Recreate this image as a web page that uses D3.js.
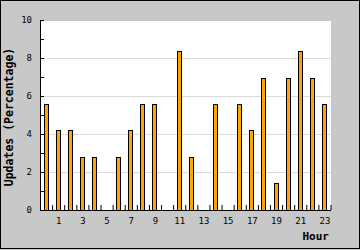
<!DOCTYPE html>
<html><head><meta charset="utf-8">
<script src="https://cdn.jsdelivr.net/npm/d3@7"></script>
<style>body{margin:0;background:#c8c8c8}svg{display:block}</style>
</head><body><svg id="c" width="360" height="250"></svg>
<script>
const hours = [0,1,2,3,4,5,6,7,8,9,10,11,12,13,14,15,16,17,18,19,20,21,22,23];
const updates = [5.56,4.17,4.17,2.78,2.78,0,2.78,4.17,5.56,5.56,0,8.33,2.78,0,5.56,0,5.56,4.17,6.94,1.39,6.94,8.33,6.94,5.56];
const yMajorTicks = [0,2,4,6,8,10];
const yMinorTicks = [1,3,5,7,9];
const gridValues = [2,4,6,8];
const xTickLabels = [1,3,5,7,9,11,13,15,17,19,21,23];
const xTitle = "Hour";
const yTitle = "Updates (Percentage)";

const svg = d3.select("#c");
const mono = "'DejaVu Sans Mono', monospace";

svg.append("rect").attr("x",0).attr("y",0).attr("width",360).attr("height",250).attr("fill","#c8c8c8");
svg.append("rect").attr("x",0.5).attr("y",0.5).attr("width",359).attr("height",248)
  .attr("fill","none").attr("stroke","#000");

const x = d3.scaleBand().domain(hours).range([40.5,331]).paddingInner(0).paddingOuter(0);
const xb = d3.scaleLinear().domain([0,24]).range([40,330.5]);
const y = d3.scaleLinear().domain([0,10]).range([210,20]);

// plot background
svg.append("rect").attr("x",41).attr("y",21).attr("width",290).attr("height",189).attr("fill","#fff");

// grid
svg.append("g").selectAll("line").data(gridValues).join("line")
  .attr("x1",41).attr("x2",331)
  .attr("y1",d=>Math.round(y(d))+0.5).attr("y2",d=>Math.round(y(d))+0.5)
  .attr("stroke","#dcdcdc").attr("stroke-width",1);

// bars
svg.append("g").selectAll("rect").data(hours.map((h,i)=>({h,v:updates[i]})).filter(d=>d.v>0)).join("rect")
  .attr("x",d=>Math.floor(x(d.h)+x.bandwidth()/2-2.5)+0.5)
  .attr("width",4)
  .attr("y",d=>Math.floor(y(d.v))+0.5)
  .attr("height",d=>210.5-(Math.floor(y(d.v))+0.5))
  .attr("fill","#ffa500").attr("stroke","#000").attr("stroke-width",1);

// y axis major
const yAxis = svg.append("g").attr("transform","translate(40,0)")
  .call(d3.axisLeft(y).tickValues(yMajorTicks).tickSizeInner(-4).tickSizeOuter(0).tickPadding(8).tickFormat(d3.format("d")));
yAxis.selectAll("text").attr("font-family",mono).attr("font-size","9px").attr("fill","#000");
yAxis.selectAll("line,path").attr("stroke","#000");
const yMinor = svg.append("g").attr("transform","translate(40,0)")
  .call(d3.axisLeft(y).tickValues(yMinorTicks).tickSizeInner(-4).tickSizeOuter(0).tickFormat(""));
yMinor.select("path").remove();
yMinor.selectAll("line").attr("stroke","#000");

// x boundary ticks
const xTicks = svg.append("g").attr("transform","translate(0,210)")
  .call(d3.axisTop(xb).tickValues(d3.range(1,25)).tickSizeInner(5).tickSizeOuter(0).tickFormat(""));
xTicks.selectAll("line,path").attr("stroke","#000");

// x labels
const xLab = svg.append("g").attr("transform","translate(0,210)")
  .call(d3.axisBottom(x).tickValues(xTickLabels).tickSize(0).tickPadding(8));
xLab.select("path").remove();
xLab.selectAll("text").attr("font-family",mono).attr("font-size","9px").attr("fill","#000");

// titles
svg.append("text").attr("x",329).attr("y",239.5).attr("text-anchor","end")
  .attr("font-family",mono).attr("font-weight","bold").attr("font-size","11px").text(xTitle);
svg.append("text").attr("transform","translate(13,117) rotate(-90)").attr("text-anchor","middle")
  .attr("font-family",mono).attr("font-weight","bold").attr("font-size","11.5px").text(yTitle);
</script></body></html>
